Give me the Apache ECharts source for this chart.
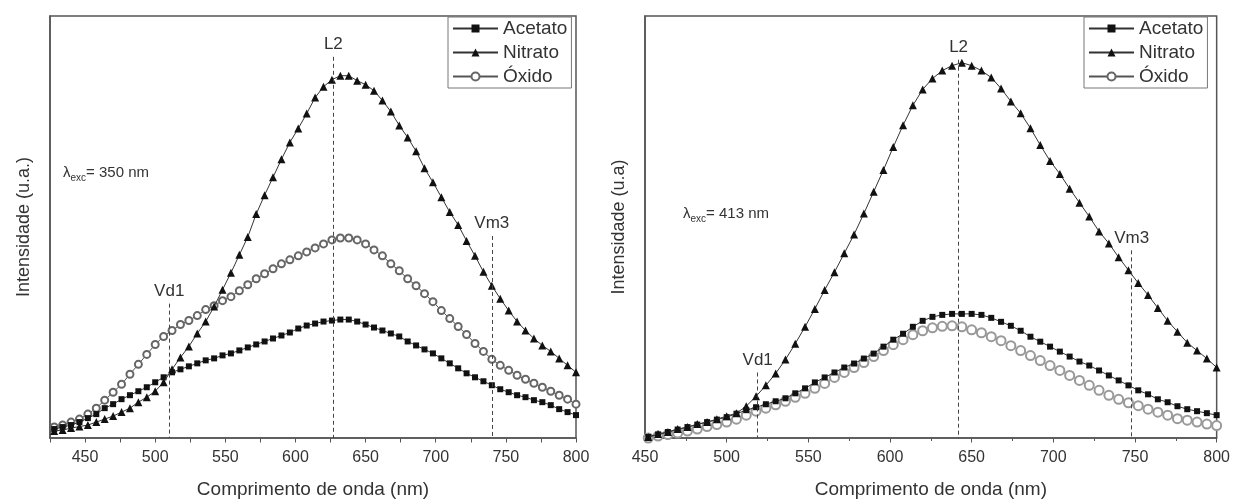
<!DOCTYPE html>
<html>
<head>
<meta charset="utf-8">
<script src="https://cdn.jsdelivr.net/npm/echarts@6/dist/echarts.min.js"></script>
<style>
  html, body { margin: 0; padding: 0; background: #fff; }
  #chart { width: 1233px; height: 504px; }
</style>
</head>
<body>
<div id="chart"></div>
<script>
// Emission spectra (arbitrary intensity units) for two excitation wavelengths.

// --- λexc = 350 nm ---
const wl350 = [428, 434, 440, 446, 452, 458, 464, 470, 476, 482, 488, 494, 500, 506, 512, 518, 524, 530, 536, 542,
  548, 554, 560, 566, 572, 578, 584, 590, 596, 602, 608, 614, 620, 626, 632, 638, 644, 650, 656, 662,
  668, 674, 680, 686, 692, 698, 704, 710, 716, 722, 728, 734, 740, 746, 752, 758, 764, 770, 776, 782,
  788, 794, 800];
const acetato350 = [9, 11, 13, 16, 20, 24, 30, 34, 39, 43, 47, 51, 56, 61, 66, 69, 72, 75, 78, 80,
  83, 85, 88, 91, 94, 97, 100, 103, 106, 110, 113, 115, 117, 118, 119, 119, 117, 114, 111, 108,
  105, 102, 97, 93, 89, 85, 80, 75, 70, 65, 61, 57, 53, 49, 46, 43, 41, 38, 36, 33,
  29, 26, 23];
const nitrato350 = [7, 8, 10, 11.5, 13, 16, 19, 22, 26, 30, 36, 41, 47, 56, 69, 81, 92, 105, 117, 132,
  149, 166, 184, 202, 225, 244, 262, 280, 297, 311, 326, 342, 353, 360, 364, 364, 359, 355, 349, 339,
  328, 314, 302, 288, 271, 257, 242, 227, 214, 198, 183, 167, 153, 140, 128, 117, 108, 100, 93, 87,
  80, 73, 66];
const oxido350 = [11, 13, 16, 19, 24, 30, 38, 46, 54, 64, 74, 84, 94, 102, 108, 114, 118, 123, 129, 133,
  138, 142, 148, 154, 160, 165, 170, 175, 179, 183, 187, 191, 195, 199, 201, 201, 199, 195, 189, 183,
  175, 168, 160, 153, 145, 137, 128, 120, 112, 104, 95, 87, 79, 73, 68, 63, 59, 55, 51, 47,
  43, 39, 34];

// --- λexc = 413 nm ---
const wl413 = [452, 458, 464, 470, 476, 482, 488, 494, 500, 506, 512, 518, 524, 530, 536, 542, 548, 554, 560, 566,
  572, 578, 584, 590, 596, 602, 608, 614, 620, 626, 632, 638, 644, 650, 656, 662, 668, 674, 680, 686,
  692, 698, 704, 710, 716, 722, 728, 734, 740, 746, 752, 758, 764, 770, 776, 782, 788, 794, 800];
const acetato413 = [1, 3.5, 6, 8.5, 11, 13.5, 16, 18.5, 21, 24.5, 28, 31, 34, 37, 40, 45, 50, 56, 61, 66,
  71, 75, 80, 85, 92, 99, 105, 112, 118, 122, 124, 125, 125, 125, 124, 121, 117, 113, 108, 102,
  97, 92, 87, 82, 77, 73, 68, 63, 58, 53, 48, 44, 39, 36, 32, 29, 27, 25, 23];
const nitrato413 = [1, 4, 6, 9, 11, 14, 16, 19, 22, 25, 32, 42, 53, 65, 79, 95, 112, 130, 149, 167,
  186, 205, 226, 248, 270, 293, 315, 335, 351, 362, 370, 375, 378, 375, 370, 363, 352, 339, 327, 312,
  295, 279, 266, 251, 237, 223, 208, 196, 182, 169, 156, 144, 131, 118, 107, 96, 88, 80, 71];
const oxido413 = [0, 2, 3.5, 5, 7, 9, 11.5, 13.5, 16, 19, 23, 27, 30, 33.5, 37, 41, 45, 50, 55, 61,
  66, 71, 76, 82, 88, 94, 99, 104, 108, 111, 112.5, 113, 112, 109, 106, 102, 98, 93, 88, 83,
  78, 73, 68, 63, 58, 53, 48, 43, 39, 35.5, 32.5, 29, 26, 23, 19.5, 18, 16, 14, 12.5];

// Band markers: label, wavelength (nm) and height where the dashed guide starts
const bandNames = ['Vd1', 'L2', 'Vm3'];
const band350Wl = [510, 627, 740];
const band350Top = [135, 383, 203];
const band413Wl = [519, 642, 748];
const band413Top = [66, 381, 189];

const seriesNames = ['Acetato', 'Nitrato', 'Óxido'];
const xTickLabels = [450, 500, 550, 600, 650, 700, 750, 800];

const FONT = '"Liberation Sans", Arial, Helvetica, sans-serif';
const INK = '#333';
const FRAME = '#555';

const pts = (xs, ys) => xs.map((x, i) => [x, ys[i]]);

function bandLines(wls, tops) {
  return {
    silent: true,
    symbol: ['none', 'none'],
    animation: false,
    lineStyle: { type: [4, 3], color: '#444', width: 1 },
    label: { show: true, position: 'start', formatter: '{b}', color: INK, fontSize: 17, fontFamily: FONT, distance: 4 },
    data: wls.map((w, i) => [
      { coord: [w, tops[i]], name: bandNames[i] },
      { coord: [w, 0] }
    ])
  };
}

function panelSeries(idx, wl, ac, ni, ox, bandWl, bandTop, oxStyle) {
  return [
    {
      name: seriesNames[2], type: 'line', xAxisIndex: idx, yAxisIndex: idx,
      data: pts(wl, ox), symbol: 'emptyCircle', symbolSize: oxStyle.size,
      itemStyle: { color: oxStyle.color, borderWidth: oxStyle.border },
      lineStyle: { color: oxStyle.line, width: 1 }, animation: false, z: 2
    },
    {
      name: seriesNames[0], type: 'line', xAxisIndex: idx, yAxisIndex: idx,
      data: pts(wl, ac), symbol: 'rect', symbolSize: 6,
      itemStyle: { color: '#111' }, lineStyle: { color: '#333', width: 1 },
      animation: false, z: 3,
      markLine: bandLines(bandWl, bandTop)
    },
    {
      name: seriesNames[1], type: 'line', xAxisIndex: idx, yAxisIndex: idx,
      data: pts(wl, ni), symbol: 'triangle', symbolSize: 8,
      itemStyle: { color: '#111' }, lineStyle: { color: '#333', width: 1 },
      animation: false, z: 4
    }
  ];
}

function xAxisFor(idx, min, extra) {
  return Object.assign({
    gridIndex: idx, type: 'value', min: min, max: 800,
    name: 'Comprimento de onda (nm)', nameLocation: 'middle', nameGap: 42,
    nameTextStyle: { fontSize: 19, color: INK, fontFamily: FONT },
    axisLine: { show: true, onZero: false, lineStyle: { color: FRAME, width: 1.5 } },
    axisTick: { show: true, inside: false, length: 4.5, lineStyle: { color: FRAME, width: 1 } },
    axisLabel: {
      color: INK, fontSize: 16, fontFamily: FONT, margin: 12,
      formatter: v => (xTickLabels.indexOf(v) >= 0 ? String(v) : '')
    },
    splitLine: { show: false }
  }, extra);
}

function yAxisFor(idx, max, title) {
  return {
    gridIndex: idx, type: 'value', min: 0, max: max,
    name: title, nameLocation: 'middle', nameGap: 17,
    nameTextStyle: { fontSize: 18, color: INK, fontFamily: FONT },
    axisLine: { show: true, lineStyle: { color: FRAME, width: 1.5 } },
    axisTick: { show: false }, axisLabel: { show: false }, splitLine: { show: false }
  };
}

function legendAt(left) {
  return {
    left: left, top: 17, orient: 'vertical', data: seriesNames,
    borderColor: '#777', borderWidth: 1, borderRadius: 0,
    padding: [2, 4, 2, 4], itemGap: 5, itemWidth: 45, itemHeight: 10,
    textStyle: { fontSize: 19, color: INK, fontFamily: FONT }, selectedMode: false
  };
}

function lambdaText(left, top, nm) {
  return {
    type: 'text', left: left, top: top, silent: true,
    style: {
      text: '{a|λ}{s|exc}{a|= ' + nm + ' nm}',
      fill: INK,
      rich: {
        a: { fontSize: 15, fontFamily: FONT, lineHeight: 22, verticalAlign: 'middle', fill: INK },
        s: { fontSize: 10, fontFamily: FONT, lineHeight: 22, verticalAlign: 'bottom', fill: INK }
      }
    }
  };
}

const chart = echarts.init(document.getElementById('chart'), null, { renderer: 'canvas' });
chart.setOption({
  backgroundColor: '#fff',
  animation: false,
  textStyle: { fontFamily: FONT },
  grid: [
    { left: 50, top: 16, width: 526, height: 424, show: true, borderColor: FRAME, borderWidth: 1.5, backgroundColor: 'transparent' },
    { left: 645, top: 16, width: 573, height: 425, show: true, borderColor: FRAME, borderWidth: 1.5, backgroundColor: 'transparent' }
  ],
  xAxis: [
    xAxisFor(0, 425, { interval: 25 }),
    xAxisFor(1, 450, { interval: 50, minorTick: { show: true, splitNumber: 2, length: 3, lineStyle: { color: FRAME, width: 1 } } })
  ],
  yAxis: [
    yAxisFor(0, 424, 'Intensidade (u.a.)'),
    yAxisFor(1, 425, 'Intensidade (u.a)')
  ],
  legend: [legendAt(448), legendAt(1084)],
  graphic: [lambdaText(63, 165, 350), lambdaText(683, 206, 413)],
  series: [].concat(
    panelSeries(0, wl350, acetato350, nitrato350, oxido350, band350Wl, band350Top,
      { size: 7, color: '#666', border: 1, line: '#555' }),
    panelSeries(1, wl413, acetato413, nitrato413, oxido413, band413Wl, band413Top,
      { size: 9, color: '#999', border: 1.3, line: '#aaa' })
  )
});
</script>
</body>
</html>
